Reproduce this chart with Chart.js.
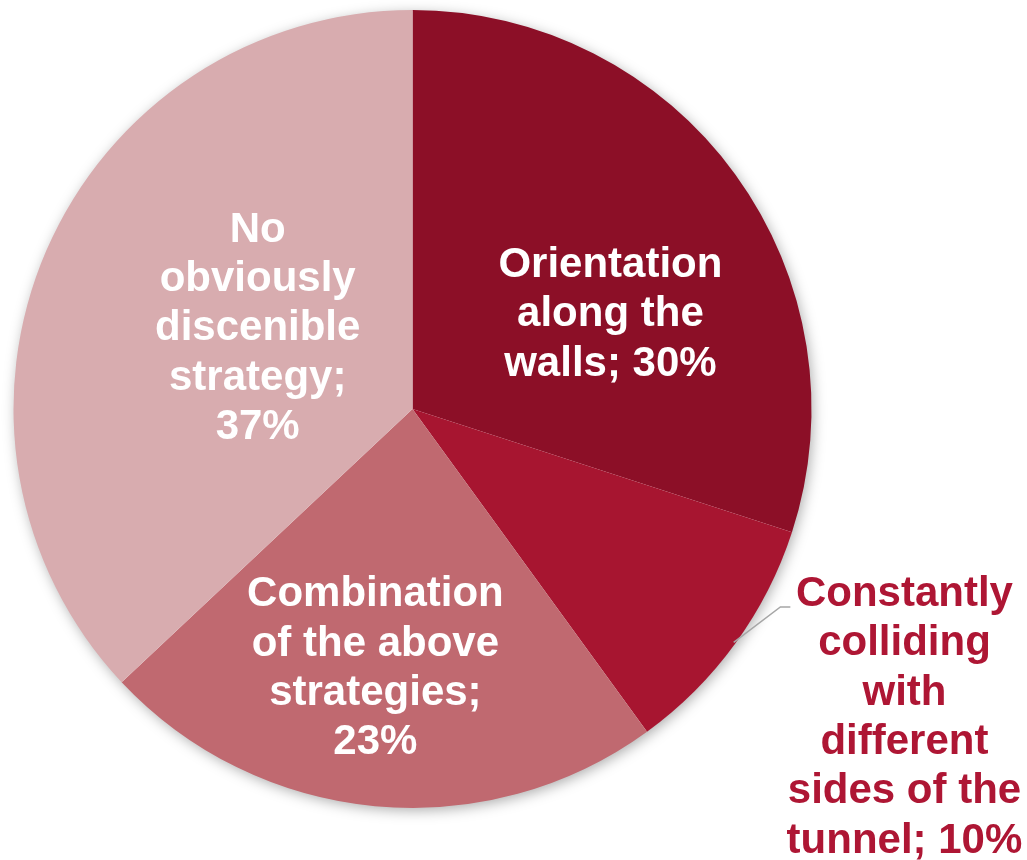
<!DOCTYPE html>
<html>
<head>
<meta charset="utf-8">
<script src="https://cdn.jsdelivr.net/npm/chart.js@4.4.1/dist/chart.umd.min.js"></script>
<style>
html,body{margin:0;padding:0;background:#fff;}
#wrap{width:1027px;height:860px;position:relative;}
</style>
</head>
<body>
<div id="wrap"><canvas id="c" width="1027" height="860"></canvas></div>
<script>
const categories = [
  "Orientation along the walls",
  "Constantly colliding with different sides of the tunnel",
  "Combination of the above strategies",
  "No obviously discenible strategy"
];
const values = [30, 10, 23, 37];
const labelLines = [
  ["Orientation", "along the", "walls; 30%"],
  ["Constantly", "colliding", "with", "different", "sides of the", "tunnel; 10%"],
  ["Combination", "of the above", "strategies;", "23%"],
  ["No", "obviously", "discenible", "strategy;", "37%"]
];
const colors = ["#8C0F27", "#A71530", "#C06970", "#D8ACAF"];

// label placement, as fractions of the pie radius relative to its centre
const labelPos = [[0.496, -0.236], [1.233, 0.774], [-0.093, 0.651], [-0.388, -0.201]];
const labelColor = ["#ffffff", "#AE1634", "#ffffff", "#ffffff"];

const shadowPlugin = {
  id: 'pieShadow',
  beforeDatasetsDraw(chart) {
    const arc = chart.getDatasetMeta(0).data[0];
    if (!arc) return;
    const ctx = chart.ctx;
    ctx.save();
    ctx.shadowColor = 'rgba(0,0,0,0.35)';
    ctx.shadowBlur = 14;
    ctx.shadowOffsetX = 2;
    ctx.shadowOffsetY = 3;
    ctx.fillStyle = '#ffffff';
    ctx.beginPath();
    ctx.arc(arc.x, arc.y, arc.outerRadius - 1, 0, Math.PI * 2);
    ctx.fill();
    ctx.restore();
  }
};

const labelPlugin = {
  id: 'sliceLabels',
  afterDatasetsDraw(chart) {
    const meta = chart.getDatasetMeta(0);
    const ctx = chart.ctx;
    const a0 = meta.data[0];
    const cx = a0.x, cy = a0.y, r = a0.outerRadius;
    ctx.save();
    // leader line for the outside label
    const a1 = meta.data[1];
    const mid = (a1.startAngle + a1.endAngle) / 2;
    ctx.strokeStyle = '#A6A6A6';
    ctx.lineWidth = 1.5;
    ctx.beginPath();
    ctx.moveTo(cx + Math.cos(mid) * r * 0.995, cy + Math.sin(mid) * r * 0.995);
    ctx.lineTo(cx + r * 0.922, cy + r * 0.496);
    ctx.lineTo(cx + r * 0.947, cy + r * 0.496);
    ctx.stroke();

    ctx.font = 'bold 42px "Liberation Sans", Arial, sans-serif';
    ctx.textAlign = 'center';
    ctx.textBaseline = 'middle';
    const lh = 49.3;
    labelLines.forEach((lines, i) => {
      const x = cx + labelPos[i][0] * r;
      const y = cy + labelPos[i][1] * r;
      ctx.fillStyle = labelColor[i];
      const n = lines.length;
      lines.forEach((t, k) => {
        ctx.fillText(t, x, y + (k - (n - 1) / 2) * lh);
      });
    });
    ctx.restore();
  }
};

new Chart(document.getElementById('c'), {
  type: 'pie',
  data: {
    labels: categories,
    datasets: [{
      data: values,
      backgroundColor: colors,
      borderWidth: 0,
      hoverOffset: 0
    }]
  },
  options: {
    responsive: false,
    animation: false,
    rotation: 0,
    layout: { padding: { left: 13, right: 215, top: 10, bottom: 52 } },
    plugins: {
      legend: { display: false },
      tooltip: { enabled: false }
    },
    events: []
  },
  plugins: [shadowPlugin, labelPlugin]
});
</script>
</body>
</html>
